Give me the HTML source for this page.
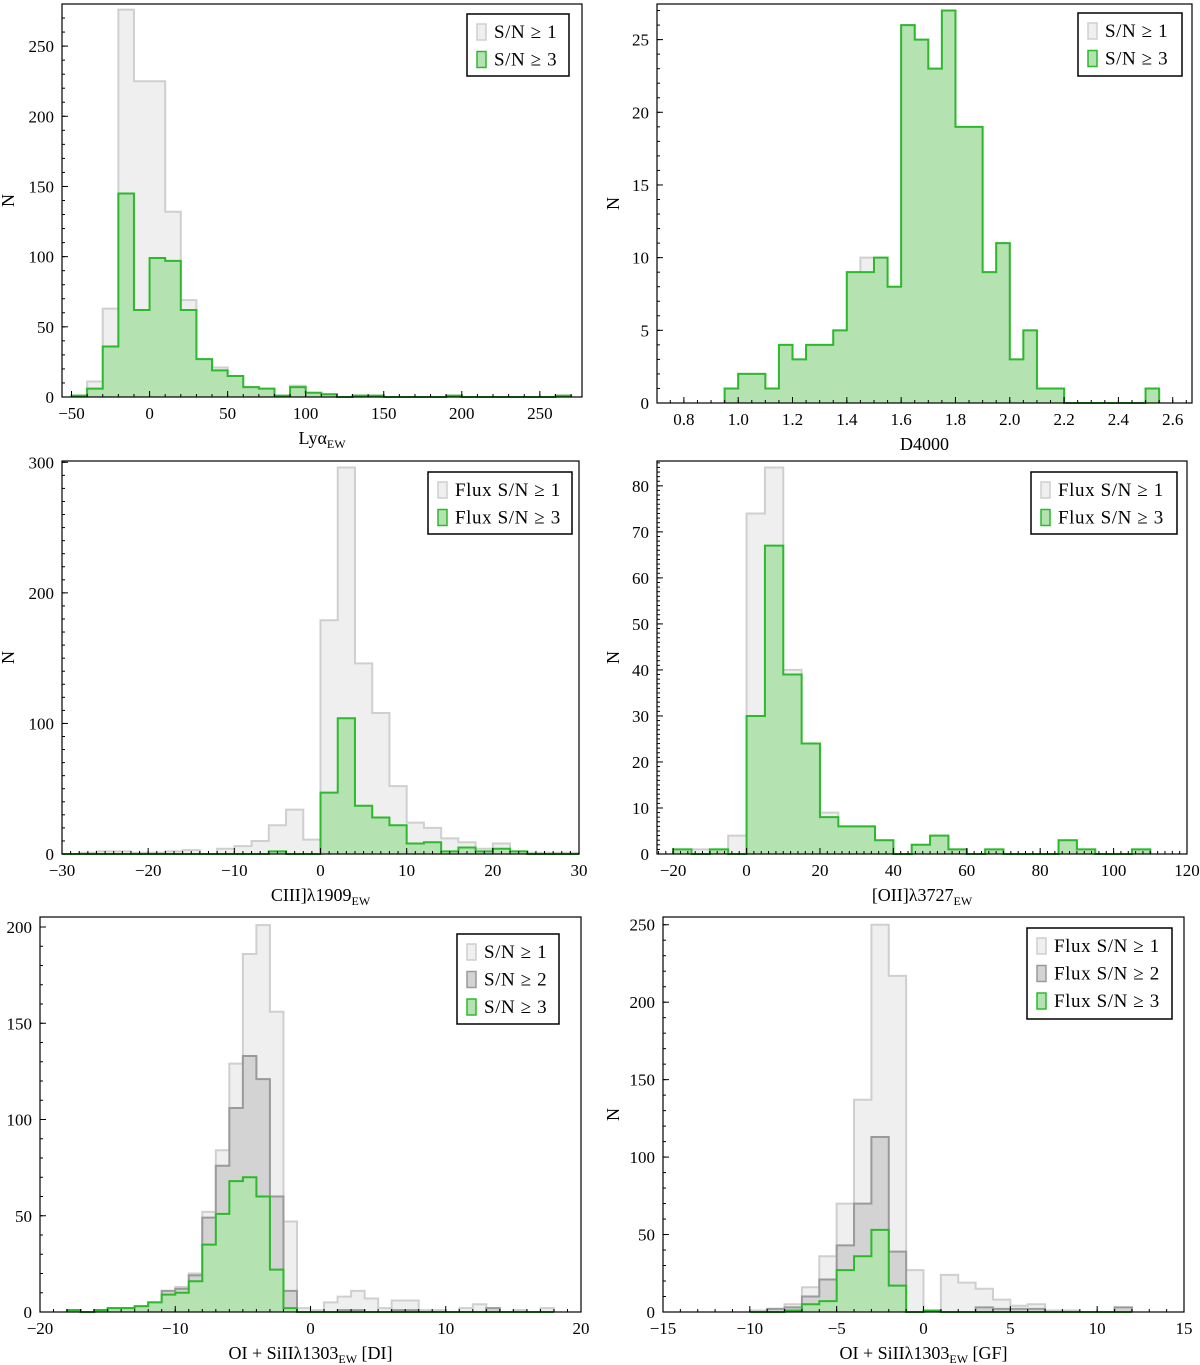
<!DOCTYPE html>
<html><head><meta charset="utf-8">
<style>
html,body{margin:0;padding:0;background:#fff;}
svg{display:block;font-family:"Liberation Serif",serif;}
</style></head>
<body>
<svg id="fig" width="1200" height="1365" viewBox="0 0 1200 1365" xmlns="http://www.w3.org/2000/svg"></svg>
<script>
// ---- data ----
const lyaEdges0 = -50, lyaBin = 10;
const lyaSN1 = [1,11,63,276,225,225,132,69,27,21,15,7,6,1,8,3,2,0,1,1,0,0,0,0,1,0,0,0,0,0,0,1];
const lyaSN3 = [1,6,36,145,62,99,97,62,27,19,15,7,6,1,7,3,2,0,1,1,0,0,0,0,1,0,0,0,0,0,0,1];
const lyaXTicks = [-50,0,50,100,150,200,250];
const lyaYTicks = [0,50,100,150,200,250];

const d4Edges0 = 0.95, d4Bin = 0.05;
const d4SN1 = [1,2,2,1,4,3,4,4,5,9,10,10,8,26,25,23,27,19,19,9,11,3,5,1,1,0,0,0,0,0,0,1];
const d4SN3 = [1,2,2,1,4,3,4,4,5,9,9,10,8,26,25,23,27,19,19,9,11,3,5,1,1,0,0,0,0,0,0,1];
const d4XTicks = [0.8,1.0,1.2,1.4,1.6,1.8,2.0,2.2,2.4,2.6];
const d4YTicks = [0,5,10,15,20,25];

const ciiiEdges0 = -30, ciiiBin = 2;
const ciiiSN1 = [0,1,2,2,1,1,2,3,0,4,6,10,22,34,11,179,296,146,108,52,24,20,12,9,4,8,2,1,1,1];
const ciiiSN3 = [0,0,0,0,0,0,0,0,0,0,0,0,2,0,0,47,104,37,28,22,8,9,2,5,2,4,2,0,0,0];
const ciiiXTicks = [-30,-20,-10,0,10,20,30];
const ciiiYTicks = [0,100,200,300];

const oiiEdges0 = -20, oiiBin = 5;
const oiiSN1 = [1,1,1,4,74,84,40,24,9,6,6,3,0,2,4,1,0,1,0,0,0,3,1,0,0,1];
const oiiSN3 = [1,0,1,0,30,67,39,24,8,6,6,3,0,2,4,1,0,1,0,0,0,3,1,0,0,1];
const oiiXTicks = [-20,0,20,40,60,80,100,120];
const oiiYTicks = [0,10,20,30,40,50,60,70,80];

const diEdges0 = -18, diBin = 1;
const diSN1 = [1,0,1,2,2,3,5,11,13,20,52,84,129,186,201,156,47,2,1,5,8,11,7,2,6,6,1,1,0,2,4,2,0,1,0,2];
const diSN2 = [1,0,1,2,2,3,5,11,12,19,49,76,106,133,121,60,11,0,0,0,1,1,0,0,1,1,0,0,0,0,0,2,0,0,0,0];
const diSN3 = [1,0,1,2,2,3,5,9,10,16,35,51,68,70,60,22,2,0,0,0,0,0,0,0,0,0,0,0,0,0,0,0,0,0,0,0];
const diXTicks = [-20,-10,0,10,20];
const diYTicks = [0,50,100,150,200];

const gfEdges0 = -10, gfBin = 1;
const gfSN1 = [1,2,5,16,36,70,137,250,217,27,1,24,19,15,8,4,5,1,1,0,0,3];
const gfSN2 = [0,2,3,10,21,43,70,113,39,0,1,0,0,3,2,2,2,0,0,0,0,3];
const gfSN3 = [0,0,1,5,7,27,36,53,17,0,1,0,0,0,0,0,0,0,0,0,0,0];
const gfXTicks = [-15,-10,-5,0,5,10,15];
const gfYTicks = [0,50,100,150,200,250];

// ---- drawing ----
const NS = "http://www.w3.org/2000/svg";
const fig = document.getElementById('fig');
function mk(tag, attrs, parent){ const e=document.createElementNS(NS,tag); for(const k in attrs) e.setAttribute(k,attrs[k]); (parent||fig).appendChild(e); return e; }
const STY = {
  g1:{fill:'#efefef',stroke:'#cfcfcf'},
  g2:{fill:'#d3d3d3',stroke:'#9a9a9a'},
  gr:{fill:'#b4e2b0',stroke:'#2eb82e'}
};
function fmt(v,dec){ let s = (Math.abs(v)<1e-9)?(dec?(0).toFixed(dec):'0'):v.toFixed(dec||0); return s.replace('-','\u2212'); }

function panel(p){
  const g = mk('g',{});
  
  
  const X = v => p.box[0] + (v - p.xr[0])/(p.xr[1]-p.xr[0])*(p.box[2]-p.box[0]);
  const Y = v => p.box[3] - (v - p.yr[0])/(p.yr[1]-p.yr[0])*(p.box[3]-p.box[1]);
  p.series.forEach(s=>{
    const st = STY[s.style];
    const sg = mk('g',{},g);
    
    
    s.vals.forEach((v,i)=>{
      if(v<=0) return;
      const x0=X(p.e0+i*p.bw), x1=X(p.e0+(i+1)*p.bw);
      const r = mk('rect',{x:x0,y:Y(v),width:x1-x0,height:Y(0)-Y(v),fill:st.fill,stroke:st.fill,'stroke-width':0.5},sg);
      
      
    });
    let d = '';
    s.vals.forEach((v,i)=>{
      const x0=X(p.e0+i*p.bw), x1=X(p.e0+(i+1)*p.bw);
      d += (i===0?'M'+x0+','+Y(0):'')+' L'+x0+','+Y(v)+' L'+x1+','+Y(v);
    });
    d += ' L'+X(p.e0+s.vals.length*p.bw)+','+Y(0);
    const o = mk('path',{d:d,fill:'none',stroke:st.stroke,'stroke-width':2,'stroke-linejoin':'miter'},sg);
    
    
  });
  const fr = mk('rect',{x:p.box[0],y:p.box[1],width:p.box[2]-p.box[0],height:p.box[3]-p.box[1],fill:'none',stroke:'#000','stroke-width':1.2},g);
  
  
  const xa = mk('g',{},g);
  
  
  for(let v=Math.ceil(p.xr[0]/p.xm-1e-9)*p.xm; v<=p.xr[1]+1e-9; v+=p.xm){
    mk('line',{x1:X(v),x2:X(v),y1:p.box[3],y2:p.box[3]-3,stroke:'#000','stroke-width':1},xa);
  }
  p.xt.forEach(v=>{
    mk('line',{x1:X(v),x2:X(v),y1:p.box[3],y2:p.box[3]-6,stroke:'#000','stroke-width':1},xa);
    const t = mk('text',{x:X(v),y:p.box[3]+22,'text-anchor':'middle','font-size':17},xa);
    t.textContent = fmt(v,p.xdec);
    
    
  });
  const ya = mk('g',{},g);
  
  
  for(let v=p.yr[0]; v<=p.yr[1]+1e-9; v+=p.ym){
    mk('line',{x1:p.box[0],x2:p.box[0]+3,y1:Y(v),y2:Y(v),stroke:'#000','stroke-width':1},ya);
  }
  p.yt.forEach(v=>{
    mk('line',{x1:p.box[0],x2:p.box[0]+6,y1:Y(v),y2:Y(v),stroke:'#000','stroke-width':1},ya);
    const t = mk('text',{x:p.box[0]-8,y:Y(v)+6,'text-anchor':'end','font-size':17},ya);
    t.textContent = fmt(v,0);
    
    
  });
  if(p.ylab){
    const yl = mk('text',{x:0,y:0,'font-size':18,'text-anchor':'middle',transform:'translate('+(p.ylx)+','+((p.box[1]+p.box[3])/2)+') rotate(-90)'},g);
    yl.textContent='N';
    
    
  }
  const xl = mk('text',{x:(p.box[0]+p.box[2])/2,y:p.box[3]+47,'text-anchor':'middle','font-size':18},g);
  xl.innerHTML = p.xlab;
  
  
  const L = p.leg;
  const lg = mk('g',{},g);
  
  
  mk('rect',{x:L[0],y:L[1],width:L[2]-L[0],height:L[3]-L[1],fill:'#fff',stroke:'#000','stroke-width':1.5},lg);
  p.series.forEach((s,i)=>{
    const cy = L[1] + 18 + i*27.5;
    const st = STY[s.style];
    const e = mk('g',{},lg);
    
    
    mk('rect',{x:L[0]+10,y:cy-8,width:9,height:16,fill:st.fill,stroke:st.stroke,'stroke-width':1.5},e);
    const t = mk('text',{x:L[0]+27,y:cy+6,'font-size':19,'letter-spacing':'0.6'},e);
    t.textContent = s.label;
  });
}

const SN = (pre,n)=> pre+'S/N \u2265 '+n;
panel({name:'panel-lya', box:[62,4,582,397], xr:[-56.1,277], yr:[0,280], e0:lyaEdges0, bw:lyaBin,
  xt:lyaXTicks, yt:lyaYTicks, xm:10, ym:10, ylab:true, ylx:14, xdec:0,
  xlab:'Ly\u03B1<tspan font-size="12" dy="4">EW</tspan>',
  leg:[467,14,569,76],
  series:[{style:'g1',vals:lyaSN1,label:SN('',1)},{style:'gr',vals:lyaSN3,label:SN('',3)}]});
panel({name:'panel-d4000', box:[657,4,1192,403], xr:[0.701,2.671], yr:[0,27.45], e0:d4Edges0, bw:d4Bin,
  xt:d4XTicks, yt:d4YTicks, xm:0.05, ym:1, ylab:true, ylx:619, xdec:1,
  xlab:'D4000',
  leg:[1078,13,1182,76],
  series:[{style:'g1',vals:d4SN1,label:SN('',1)},{style:'gr',vals:d4SN3,label:SN('',3)}]});
panel({name:'panel-ciii', box:[62,461,579,854], xr:[-30,30], yr:[0,301], e0:ciiiEdges0, bw:ciiiBin,
  xt:ciiiXTicks, yt:ciiiYTicks, xm:1, ym:10, ylab:true, ylx:14, xdec:0,
  xlab:'CIII]\u03BB1909<tspan font-size="12" dy="4">EW</tspan>',
  leg:[428,472,572,534],
  series:[{style:'g1',vals:ciiiSN1,label:SN('Flux ',1)},{style:'gr',vals:ciiiSN3,label:SN('Flux ',3)}]});
panel({name:'panel-oii', box:[657,461,1187,854], xr:[-24.4,120], yr:[0,85.4], e0:oiiEdges0, bw:oiiBin,
  xt:oiiXTicks, yt:oiiYTicks, xm:2, ym:1, ylab:true, ylx:619, xdec:0,
  xlab:'[OII]\u03BB3727<tspan font-size="12" dy="4">EW</tspan>',
  leg:[1031,472,1177,534],
  series:[{style:'g1',vals:oiiSN1,label:SN('Flux ',1)},{style:'gr',vals:oiiSN3,label:SN('Flux ',3)}]});
panel({name:'panel-oi-di', box:[40,917,581,1312], xr:[-20,20], yr:[0,205.2], e0:diEdges0, bw:diBin,
  xt:diXTicks, yt:diYTicks, xm:1, ym:10, ylab:false, ylx:0, xdec:0,
  xlab:'OI + SiII\u03BB1303<tspan font-size="12" dy="4">EW</tspan><tspan dy="-4"> [DI]</tspan>',
  leg:[457,934,559,1024],
  series:[{style:'g1',vals:diSN1,label:SN('',1)},{style:'g2',vals:diSN2,label:SN('',2)},{style:'gr',vals:diSN3,label:SN('',3)}]});
panel({name:'panel-oi-gf', box:[663,917,1184,1312], xr:[-15,15], yr:[0,255], e0:gfEdges0, bw:gfBin,
  xt:gfXTicks, yt:gfYTicks, xm:1, ym:10, ylab:true, ylx:619, xdec:0,
  xlab:'OI + SiII\u03BB1303<tspan font-size="12" dy="4">EW</tspan><tspan dy="-4"> [GF]</tspan>',
  leg:[1027,928,1172,1019],
  series:[{style:'g1',vals:gfSN1,label:SN('Flux ',1)},{style:'g2',vals:gfSN2,label:SN('Flux ',2)},{style:'gr',vals:gfSN3,label:SN('Flux ',3)}]});
</script>
</body></html>
